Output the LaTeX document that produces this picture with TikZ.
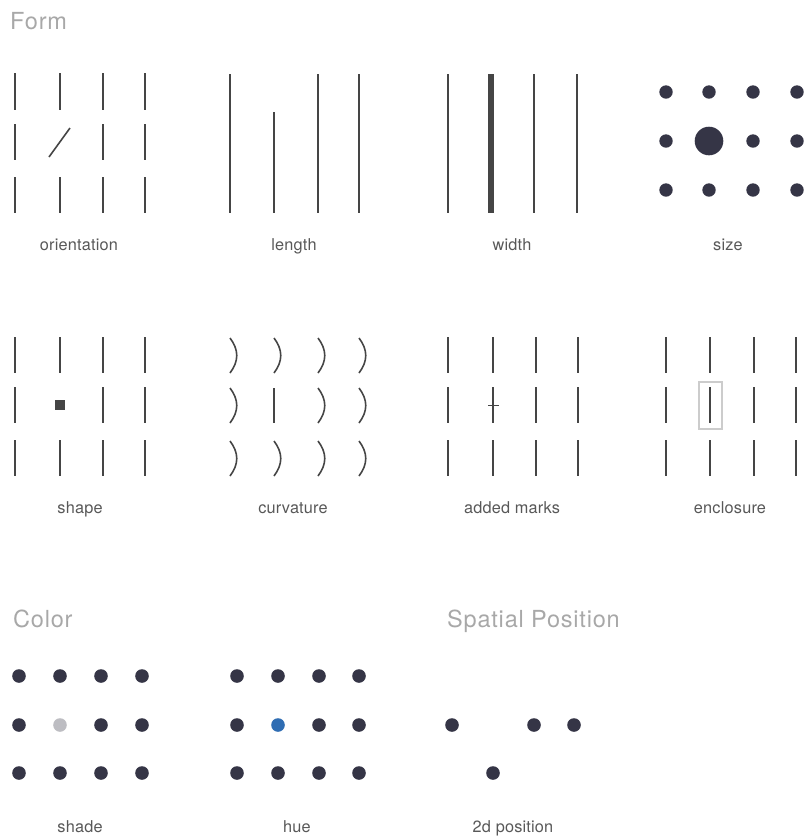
\documentclass[tikz,border=0pt]{standalone}
\usepackage{fontspec}
\setmainfont{TeX Gyre Heros}
\newfontfamily\ttlfont[LetterSpace=3.4]{TeX Gyre Heros}
\newfontfamily\lblfont[LetterSpace=1.2]{TeX Gyre Heros}
\definecolor{barc}{HTML}{454545}
\definecolor{dotc}{HTML}{353546}
\definecolor{titlec}{HTML}{A8A8A8}
\definecolor{lblc}{HTML}{585858}
\definecolor{shadec}{HTML}{BDBDC2}
\definecolor{huec}{HTML}{2F6DB3}
\definecolor{encc}{HTML}{CCCCCC}
\begin{document}
\begin{tikzpicture}[x=1pt,y=-1pt,
  bar/.style={draw=barc, line width=1.6pt},
  thickbar/.style={draw=barc, line width=5.5pt},
  dot/.style={fill=dotc},
  title/.style={font=\ttlfont\fontsize{23.5}{24}\selectfont, text=titlec, anchor=base west, inner sep=0pt},
  lbl/.style={font=\lblfont\fontsize{16.3}{17}\selectfont, text=lblc, anchor=base, inner sep=0pt}]
\useasboundingbox (0,0) rectangle (805,836);

% ---------- titles ----------
\node[title] (tform) at (10,29) {Form};
\node[title] (tcolor) at (13,627) {Color};
\node[title] (tspatial) at (447,627) {Spatial Position};

% ---------- orientation ----------
\foreach \x in {15,60,103,145}{
  \draw[bar] (\x,73) -- (\x,110);
  \draw[bar] (\x,177) -- (\x,213);
}
\foreach \x in {15,103,145}{ \draw[bar] (\x,124) -- (\x,160); }
\draw[bar] (49,157) -- (70,128);
\node[lbl] (lorient) at (79,250) {orientation};

% ---------- length ----------
\foreach \x in {230,318,359}{ \draw[bar] (\x,74) -- (\x,213); }
\draw[bar] (274,112) -- (274,213);
\node[lbl] (llength) at (294,250) {length};

% ---------- width ----------
\foreach \x in {448,534,577}{ \draw[bar] (\x,74) -- (\x,213); }
\draw[thickbar] (491,74) -- (491,213);
\node[lbl] (lwidth) at (512,250) {width};

% ---------- size ----------
\foreach \x in {666,709,753,797}{
  \fill[dot] (\x,92) circle[radius=6.7pt];
  \fill[dot] (\x,190) circle[radius=6.7pt];
}
\foreach \x in {666,753,797}{ \fill[dot] (\x,141) circle[radius=6.7pt]; }
\fill[dot] (709,141) circle[radius=14.3pt];
\node[lbl] (lsize) at (728,250) {size};

% ---------- shape ----------
\foreach \x in {15,60,103,145}{
  \draw[bar] (\x,337) -- (\x,373);
  \draw[bar] (\x,440) -- (\x,476);
}
\foreach \x in {15,103,145}{ \draw[bar] (\x,387) -- (\x,423); }
\fill[barc] (55,400) rectangle (65,410);
\node[lbl] (lshape) at (80,513) {shape};

% ---------- curvature ----------
\foreach \x in {230,274,318,359}{
  \draw[bar] (\x,338) .. controls (\x+9,350) and (\x+9,361) .. (\x,373);
  \draw[bar] (\x,441) .. controls (\x+9,453) and (\x+9,464) .. (\x,476);
}
\foreach \x in {230,318,359}{
  \draw[bar] (\x,388) .. controls (\x+9,400) and (\x+9,411) .. (\x,423);
}
\draw[bar] (274,388) -- (274,423);
\node[lbl] (lcurv) at (293,513) {curvature};

% ---------- added marks ----------
\foreach \x in {448,493,536,578}{
  \draw[bar] (\x,337) -- (\x,373);
  \draw[bar] (\x,387) -- (\x,423);
  \draw[bar] (\x,440) -- (\x,476);
}
\draw[bar] (488,405.5) -- (498.5,405.5);
\node[lbl] (lmarks) at (512,513) {added marks};

% ---------- enclosure ----------
\foreach \x in {666,710,754,796}{
  \draw[bar] (\x,337) -- (\x,373);
  \draw[bar] (\x,387) -- (\x,423);
  \draw[bar] (\x,440) -- (\x,476);
}
\draw[draw=encc, line width=1.5pt] (699,382) rectangle (722,429);
\node[lbl] (lencl) at (730,513) {enclosure};

% ---------- shade ----------
\foreach \x in {19,60,101,142}{
  \fill[dot] (\x,676) circle[radius=6.8pt];
  \fill[dot] (\x,773) circle[radius=6.8pt];
}
\foreach \x in {19,101,142}{ \fill[dot] (\x,725) circle[radius=6.8pt]; }
\fill[shadec] (60,725) circle[radius=6.8pt];
\node[lbl] (lshade) at (80,832) {shade};

% ---------- hue ----------
\foreach \x in {237,278,319,359}{
  \fill[dot] (\x,676) circle[radius=6.8pt];
  \fill[dot] (\x,773) circle[radius=6.8pt];
}
\foreach \x in {237,319,359}{ \fill[dot] (\x,725) circle[radius=6.8pt]; }
\fill[huec] (278,725) circle[radius=6.8pt];
\node[lbl] (lhue) at (297,832) {hue};

% ---------- 2d position ----------
\fill[dot] (452,725) circle[radius=6.8pt];
\fill[dot] (534,725) circle[radius=6.8pt];
\fill[dot] (574,725) circle[radius=6.8pt];
\fill[dot] (493,773) circle[radius=6.8pt];
\node[lbl] (lpos) at (513,832) {2d position};
\end{tikzpicture}
\end{document}
